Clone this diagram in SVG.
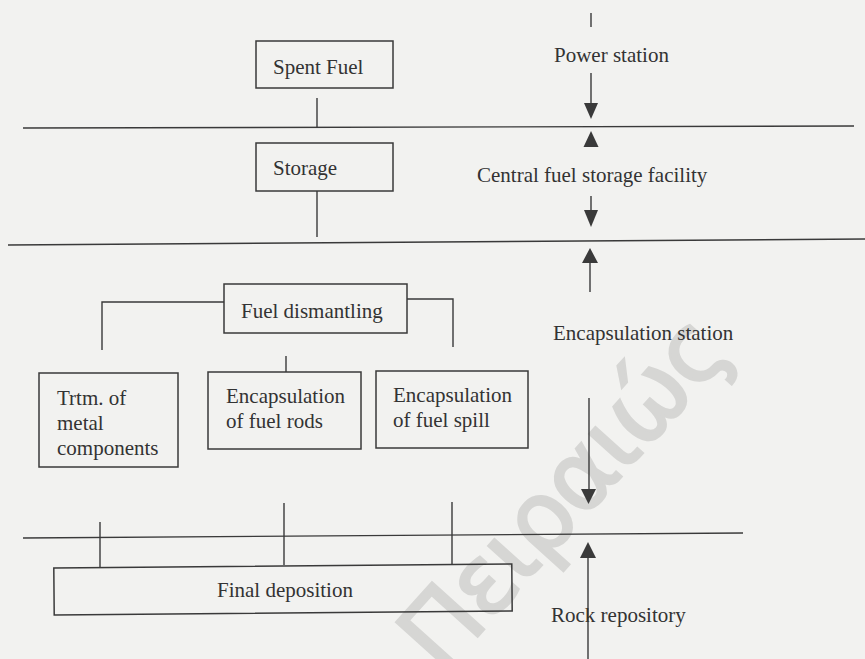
<svg xmlns="http://www.w3.org/2000/svg" width="865" height="659" viewBox="0 0 865 659">
<defs>
<style>
.bg{fill:#f2f2f0}
.wm{font-family:"DejaVu Sans","Noto Sans",sans-serif;font-size:96px;fill:#d6d6d4;stroke:#d6d6d4;stroke-width:2.5}
.box{fill:none;stroke:#3a3a3a;stroke-width:1.5}
.ln{fill:none;stroke:#3a3a3a;stroke-width:1.4}
.hd{fill:#3a3a3a;stroke:none}
text.t{font-family:"Liberation Serif","Times New Roman",serif;font-size:21px;fill:#333}
</style>
</defs>
<rect class="bg" x="0" y="0" width="865" height="659"/>
<text class="wm" transform="translate(442 676) rotate(-48)" textLength="436" lengthAdjust="spacing">Πειραιώς</text>

<g id="separators">
<line class="ln" x1="23" y1="128" x2="854" y2="126"/>
<line class="ln" x1="8" y1="245" x2="865" y2="239"/>
<line class="ln" x1="23" y1="538" x2="743" y2="533"/>
</g>

<g id="spent-fuel">
<rect class="box" x="256" y="41" width="137" height="47"/>
<text class="t" x="273" y="74">Spent Fuel</text>
</g>
<g id="storage">
<rect class="box" x="256" y="143" width="137" height="48"/>
<text class="t" x="273" y="175">Storage</text>
</g>
<g id="fuel-dismantling">
<rect class="box" x="224" y="284" width="183" height="49"/>
<text class="t" x="241" y="318">Fuel dismantling</text>
</g>
<g id="trtm-metal">
<rect class="box" x="39" y="373" width="139" height="94"/>
<text class="t" x="57" y="405">Trtm. of</text>
<text class="t" x="57" y="430">metal</text>
<text class="t" x="57" y="455">components</text>
</g>
<g id="encap-rods">
<rect class="box" x="208" y="372" width="153" height="77"/>
<text class="t" x="226" y="403">Encapsulation</text>
<text class="t" x="226" y="428">of fuel rods</text>
</g>
<g id="encap-spill">
<rect class="box" x="376" y="371" width="152" height="77"/>
<text class="t" x="393" y="402">Encapsulation</text>
<text class="t" x="393" y="427">of fuel spill</text>
</g>
<g id="final-deposition">
<rect class="box" x="54" y="566" width="458" height="47" transform="rotate(-0.5 283 590)"/>
<text class="t" x="217" y="597">Final deposition</text>
</g>

<g id="connectors">
<line class="ln" x1="317" y1="98" x2="317" y2="128"/>
<line class="ln" x1="317" y1="191" x2="317" y2="237"/>
<polyline class="ln" points="224,302 102,302 102,350"/>
<polyline class="ln" points="407,299 453,299 453,347"/>
<line class="ln" x1="286" y1="356" x2="286" y2="372"/>
<line class="ln" x1="100" y1="522" x2="100" y2="567"/>
<line class="ln" x1="284" y1="503" x2="284" y2="565"/>
<line class="ln" x1="452" y1="502" x2="452" y2="564"/>

<line class="ln" x1="591" y1="13" x2="591" y2="27"/>
<line class="ln" x1="591" y1="73" x2="591" y2="105"/>
<polygon class="hd" points="584,103 598,103 591,119"/>
<polygon class="hd" points="591,131 598.5,147 583.5,147"/>
<line class="ln" x1="591" y1="196" x2="591" y2="212"/>
<polygon class="hd" points="584,210 598,210 591,227"/>
<polygon class="hd" points="590,248 598,263 582,263"/>
<line class="ln" x1="590" y1="261" x2="590" y2="292"/>
<line class="ln" x1="589" y1="398" x2="589" y2="491"/>
<polygon class="hd" points="581,489 596,489 588.5,504"/>
<polygon class="hd" points="588,542 596,558 580,558"/>
<line class="ln" x1="588" y1="556" x2="588" y2="659"/>
</g>

<g id="zone-labels">
<text class="t" x="554" y="62">Power station</text>
<text class="t" x="477" y="182">Central fuel storage facility</text>
<text class="t" x="553" y="340">Encapsulation station</text>
<text class="t" x="551" y="622">Rock repository</text>
</g>
</svg>
